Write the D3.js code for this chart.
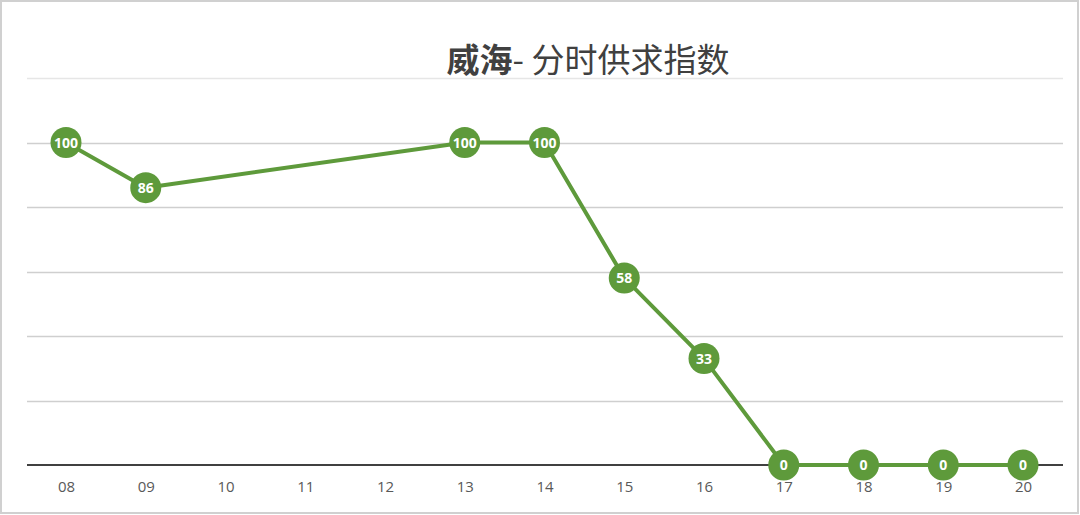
<!DOCTYPE html>
<html><head><meta charset="utf-8">
<script src="https://cdn.jsdelivr.net/npm/d3@7/dist/d3.min.js"></script>
<style>body{margin:0;background:#fff}svg{display:block}</style>
</head><body><svg id="c" width="1080" height="515"></svg>
<script>
const categories = ["08","09","10","11","12","13","14","15","16","17","18","19","20"];
const values = [100,86,null,null,null,100,100,58,33,0,0,0,0];
const yTicks = [0,20,40,60,80,100,120];
const titleBold = "威海";
const titleRest = "- 分时供求指数";

const svg = d3.select("#c");
const W=1080,H=515;
svg.append("rect").attr("x",1).attr("y",1).attr("width",W-3).attr("height",H-3)
  .attr("fill","#fff").attr("stroke","#d0d0d0").attr("stroke-width",2);

const x = d3.scalePoint().domain(categories).range([66,1023]);
const y = d3.scaleLinear().domain([0,120]).range([465,78]);
const green = "#5e9a3b";

svg.append("g").selectAll("line").data(yTicks.filter(t=>t>0)).join("line")
  .attr("x1",27).attr("x2",1063)
  .attr("y1",d=>Math.round(y(d))+0.5).attr("y2",d=>Math.round(y(d))+0.5)
  .attr("stroke",d=>d===120?"#e6e6e6":"#cfcfcf").attr("stroke-width",1.3);

const xAxis = d3.axisBottom(x).tickSize(0).tickPadding(16);
const gx = svg.append("g").attr("transform",`translate(0,${y(0)})`).call(xAxis);
gx.select(".domain").remove();
gx.append("line").attr("x1",27).attr("x2",1063).attr("stroke","#404040").attr("stroke-width",2);
gx.selectAll("text").attr("font-family","Open Sans, sans-serif").attr("font-size",15).attr("fill","#595959");

const pts = categories.map((c,i)=>({c,v:values[i]})).filter(d=>d.v!==null);
svg.append("path").datum(pts)
  .attr("d",d3.line().x(d=>x(d.c)).y(d=>y(d.v)))
  .attr("fill","none").attr("stroke",green).attr("stroke-width",4).attr("stroke-linejoin","round");

const g = svg.append("g").selectAll("g").data(pts).join("g")
  .attr("transform",d=>`translate(${x(d.c)},${y(d.v)})`);
g.append("circle").attr("r",15.5).attr("fill",green);
g.append("text").text(d=>d.v).attr("text-anchor","middle").attr("dy","0.36em")
  .attr("font-family","Open Sans, sans-serif").attr("font-weight","bold").attr("font-size",14).attr("fill","#fff");

const t = svg.append("text").attr("x",588).attr("y",72).attr("text-anchor","middle")
  .attr("font-family","Noto Sans CJK SC, sans-serif").attr("font-size",33).attr("fill","#404040");
t.append("tspan").attr("font-weight","bold").text(titleBold);
t.append("tspan").text(titleRest);
</script></body></html>
